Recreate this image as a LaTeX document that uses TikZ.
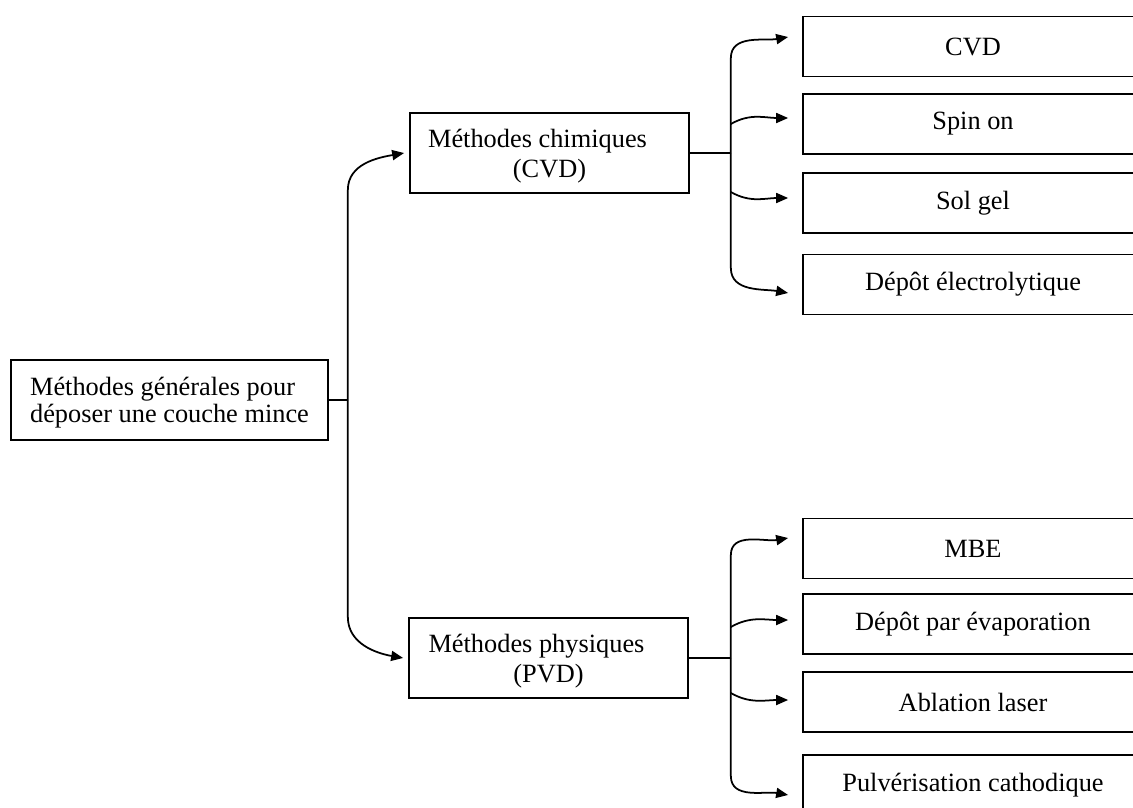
\documentclass[tikz,border=0pt]{standalone}
\usepackage{fontspec}
\setmainfont{Liberation Serif}
\usetikzlibrary{arrows.meta,positioning}

\begin{document}
\begin{tikzpicture}[x=0.02cm,y=-0.02cm,>={Triangle[length=2.4mm,width=2mm]},
  boite/.style={draw,line width=1pt,inner sep=0pt,font=\fontsize{15}{17}\selectfont},
  racine/.style={boite,minimum width=6.34cm,minimum height=1.6cm,align=left,
    font=\fontsize{15}{15.5}\selectfont,text depth=-6.5pt},
  methode/.style={boite,minimum width=5.58cm,minimum height=1.6cm,align=center,text depth=-5pt},
  feuille/.style={boite,minimum width=6.8cm,minimum height=1.2cm},
  lien/.style={line width=1pt},
  fleche/.style={lien,->}]
\clip (0,0) rectangle (1133,808);
\fill[white] (0,0) rectangle (1133,808);

\node[racine] (gen) at (169.5,400) {Méthodes générales pour\\déposer une couche mince};
\node[methode] (chim) at (549.5,153) {Méthodes chimiques\hspace*{0.48cm}\\(CVD)};
\node[methode] (phys) at (548.5,658) {Méthodes physiques\hspace*{0.48cm}\\(PVD)};

\foreach \y/\nom/\txt in {46.5/cvd/CVD, 124/spin/Spin on, 203/sol/Sol gel,
  284.5/elec/Dépôt électrolytique, 548.5/mbe/MBE, 624/evap/Dépôt par évaporation,
  702/abl/Ablation laser, 785/pulv/Pulvérisation cathodique}
  \node[feuille] (\nom) at (973,\y) {\txt};

% tronc principal
\coordinate[right=0.38cm of gen.east] (j0);
\draw[lien] (gen) -- (j0);
\draw[fleche] (j0) -- ++(0,-210) to[out=90,in=190] ([xshift=-1mm]chim.west);
\draw[fleche] (j0) -- ++(0,217) to[out=-90,in=170] ([xshift=-1mm]phys.west);

% methodes chimiques
\coordinate[right=0.82cm of chim.east] (j1);
\draw[lien] (chim) -- (j1);
\draw[fleche] (j1) -- ++(0,-95) to[out=90,in=190] ([xshift=-2.8mm,yshift=1.9mm]cvd.west);
\draw[fleche] (j1 |- spin.west) to[out=30,in=180] ([xshift=-2.8mm,yshift=1.2mm]spin.west);
\draw[fleche] ([yshift=2.2mm]j1 |- sol.west) to[out=-30,in=180] ([xshift=-2.8mm,yshift=1mm]sol.west);
\draw[fleche] (j1) -- ++(0,115) to[out=-90,in=170] ([xshift=-2.8mm,yshift=-1.7mm]elec.west);

% methodes physiques
\coordinate[right=0.84cm of phys.east] (j2);
\draw[lien] (phys) -- (j2);
\draw[fleche] (j2) -- ++(0,-103) to[out=90,in=190] ([xshift=-2.8mm,yshift=2.1mm]mbe.west);
\draw[fleche] ([yshift=-0.6mm]j2 |- evap.west) to[out=30,in=180] ([xshift=-2.8mm,yshift=0.8mm]evap.west);
\draw[fleche] ([yshift=1.8mm]j2 |- abl.west) to[out=-30,in=180] ([xshift=-2.8mm,yshift=0.4mm]abl.west);
\draw[fleche] (j2) -- ++(0,118) to[out=-90,in=170] ([xshift=-2.8mm,yshift=-2mm]pulv.west);
\end{tikzpicture}
\end{document}
